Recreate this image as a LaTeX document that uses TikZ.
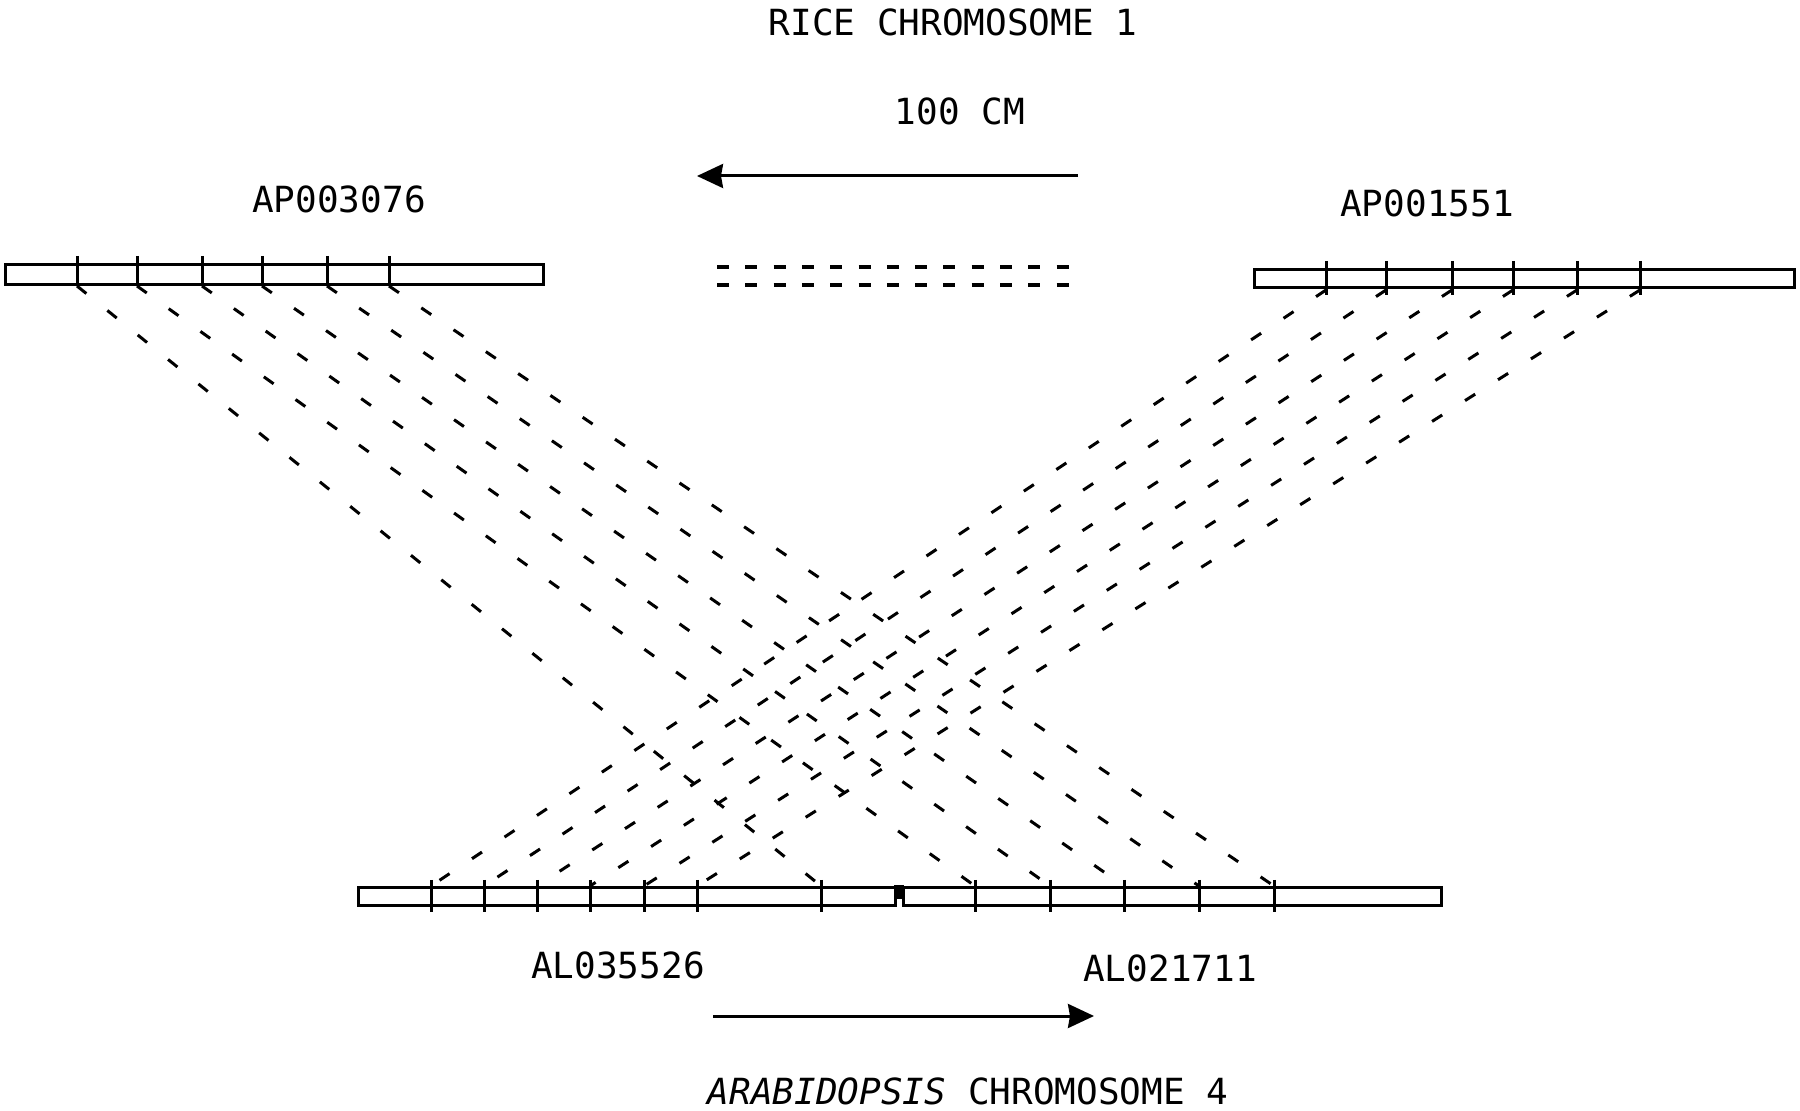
\documentclass[tikz,border=0pt]{standalone}
\usepackage{fontspec}
\newfontfamily\plotfont{DejaVu Sans Mono}
\usetikzlibrary{arrows.meta}
\begin{document}
\begin{tikzpicture}[x=0.5pt,y=-0.5pt,
  lbl/.style={font=\plotfont\fontsize{18pt}{20pt}\selectfont, inner sep=0pt, anchor=center},
  chrom/.style={draw=black, line width=1.5pt},
  tick/.style={draw=black, line width=1.5pt},
  link/.style={draw=black, line width=1.5pt, dash pattern=on 6pt off 13.5pt},
  scaledash/.style={draw=black, line width=1.6pt, dash pattern=on 6pt off 8.15pt},
  scalearrow/.style={draw=black, line width=1.5pt, -{Stealth[length=13pt,width=12pt,inset=1pt]}}]
\useasboundingbox (0,0) rectangle (1800,1111);

% labels
\node[lbl] (title) at (953,22.5) {RICE CHROMOSOME 1};
\node[lbl] (scale) at (960,111) {100 CM};
\node[lbl] (apL) at (339,199) {AP003076};
\node[lbl] (apR) at (1427,203) {AP001551};
\node[lbl] (alL) at (618,965) {AL035526};
\node[lbl] (alR) at (1170,968) {AL021711};
\node[lbl] (arab) at (968,1091) {{\itshape ARABIDOPSIS} CHROMOSOME 4};

% scale arrows
\coordinate (ta1) at (1078,176);
\coordinate (ta2) at (697,176);
\draw[scalearrow] (ta1) -- (ta2);
\coordinate (ba1) at (713,1016);
\coordinate (ba2) at (1094,1016);
\draw[scalearrow] (ba1) -- (ba2);

% double dashed line
\coordinate (d1a) at (717,267); \coordinate (d1b) at (1072,267);
\coordinate (d2a) at (717,285); \coordinate (d2b) at (1072,285);
\draw[scaledash] (d1a) -- (d1b);
\draw[scaledash] (d2a) -- (d2b);

% chromosome bars
\draw[chrom] (5,265) rectangle (543,285);
\draw[chrom] (1254,270) rectangle (1794,288);
\draw[chrom] (358,888) rectangle (895,906);
\draw[chrom] (903,888) rectangle (1441,906);
\fill[black] (894,885) rectangle (904,899);

% ticks and anchor points
\foreach \x [count=\i] in {77,137,202,262,327,389}{
  \draw[tick] (\x,256) -- (\x,286);
  \coordinate (L\i) at (\x,286);
}
\foreach \x [count=\i] in {1326,1386,1452,1513,1577,1640}{
  \draw[tick] (\x,261) -- (\x,295);
  \coordinate (R\i) at (\x,290);
}
\foreach \x [count=\i] in {431,484,537,590,644,697,821,975,1050,1124,1199,1274}{
  \draw[tick] (\x,880) -- (\x,912);
  \coordinate (B\i) at (\x,886);
}

% homology links
\draw[link] (L1) -- (B7);
\draw[link] (L2) -- (B8);
\draw[link] (L3) -- (B9);
\draw[link] (L4) -- (B10);
\draw[link] (L5) -- (B11);
\draw[link] (L6) -- (B12);
\draw[link] (R1) -- (B1);
\draw[link] (R2) -- (B2);
\draw[link] (R3) -- (B3);
\draw[link] (R4) -- (B4);
\draw[link] (R5) -- (B5);
\draw[link] (R6) -- (B6);
\end{tikzpicture}
\end{document}
